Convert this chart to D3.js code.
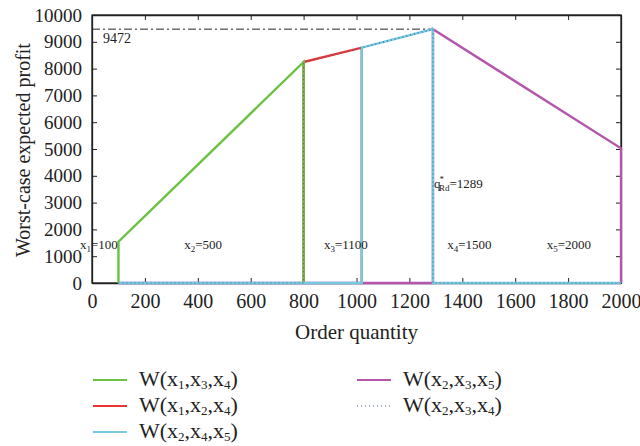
<!DOCTYPE html>
<html>
<head>
<meta charset="utf-8">
<script src="https://cdn.jsdelivr.net/npm/d3@7"></script>
<style>
  body { margin: 0; background: #fff; }
  svg text { font-family: "Liberation Serif", "DejaVu Serif", serif; fill: #222; }
</style>
</head>
<body>
<div id="chart"></div>
<script>
// piecewise profit curves, [order quantity, profit]
var green = [[100, 0], [100, 1540], [800, 8246], [800, 0]];
var red = [[800, 0], [800, 8246], [1020, 8780], [1020, 0]];
var magenta = [[100, 0], [1289, 0], [1289, 9472], [2000, 5026], [2000, 0]];
var cyan = [[100, 0], [1020, 0], [1020, 8780], [1289, 9472], [1289, 0], [2000, 0]];
var dotted = [[100, 0], [800, 0], [800, 8246], [1020, 8780], [1289, 9472], [1289, 0], [2000, 0]];
var bestQ = 1289, bestProfit = 9472;
var xTicks = [0, 200, 400, 600, 800, 1000, 1200, 1400, 1600, 1800, 2000];
var yTicks = [0, 1000, 2000, 3000, 4000, 5000, 6000, 7000, 8000, 9000, 10000];
var regionLabels = [
  {n: "1", v: "100", q: 26},
  {n: "2", v: "500", q: 420},
  {n: "3", v: "1100", q: 960},
  {n: "4", v: "1500", q: 1427},
  {n: "5", v: "2000", q: 1803}
];

var pl = 92, pr = 621, pt = 15, pb = 283;
var svg = d3.select("#chart").append("svg").attr("width", 640).attr("height", 446);
var x = d3.scaleLinear().domain([0, 2000]).range([pl, pr]);
var y = d3.scaleLinear().domain([0, 10000]).range([pb, pt]);
var fmt = d3.format("d");

// axes with inward ticks on all four sides
svg.append("g").attr("transform", "translate(0," + pb + ")")
  .call(d3.axisBottom(x).tickValues(xTicks).tickFormat(fmt).tickSizeInner(-5).tickSizeOuter(0).tickPadding(11))
  .call(function (g) { g.selectAll("text").style("font-size", "20px"); });
svg.append("g").attr("transform", "translate(0," + pt + ")")
  .call(d3.axisTop(x).tickValues(xTicks).tickSizeInner(-5).tickSizeOuter(0).tickFormat(""));
svg.append("g").attr("transform", "translate(" + pl + ",0)")
  .call(d3.axisLeft(y).tickValues(yTicks).tickFormat(fmt).tickSizeInner(-5).tickSizeOuter(0).tickPadding(10))
  .call(function (g) { g.selectAll("text").style("font-size", "19px"); });
svg.append("g").attr("transform", "translate(" + pr + ",0)")
  .call(d3.axisRight(y).tickValues(yTicks).tickSizeInner(-5).tickSizeOuter(0).tickFormat(""));
svg.selectAll(".domain").attr("stroke", "#222").attr("stroke-width", 1.3);
svg.selectAll(".tick line").attr("stroke", "#222");
svg.append("rect").attr("x", pl).attr("y", pt).attr("width", pr - pl).attr("height", pb - pt)
  .attr("fill", "none").attr("stroke", "#222").attr("stroke-width", 1.3);

// optimum reference line
svg.append("line")
  .attr("x1", x(0)).attr("x2", x(bestQ)).attr("y1", y(bestProfit)).attr("y2", y(bestProfit))
  .attr("stroke", "#222").attr("stroke-width", 1).attr("stroke-dasharray", "8,3,2,3");
svg.append("text").attr("x", x(42)).attr("y", y(bestProfit) + 14).style("font-size", "14px").text(bestProfit);

var line = d3.line().x(function (d) { return x(d[0]); }).y(function (d) { return y(d[1]); });
var series = [
  {data: magenta, color: "#b556ad", dash: null},
  {data: red, color: "#ea3530", dash: null},
  {data: green, color: "#6cc142", dash: null},
  {data: cyan, color: "#74cbe0", dash: null},
  {data: dotted, color: "#4d5fa3", dash: "1,3"}
];
series.forEach(function (s) {
  svg.append("path").datum(s.data).attr("d", line)
    .attr("fill", "none").attr("stroke", s.color)
    .attr("stroke-width", s.dash ? 1.2 : 2.4)
    .attr("stroke-dasharray", s.dash);
});

// region labels
regionLabels.forEach(function (r) {
  var t = svg.append("text").attr("x", x(r.q)).attr("y", 249).attr("text-anchor", "middle").style("font-size", "13px");
  t.append("tspan").text("x");
  t.append("tspan").attr("font-size", "9px").attr("dy", 3).text(r.n);
  t.append("tspan").attr("dy", -3).text("=" + r.v);
});
var qt = svg.append("text").attr("x", x(bestQ) + 1).attr("y", 188).style("font-size", "13px");
qt.append("tspan").text("q");
qt.append("tspan").attr("font-size", "9px").attr("dy", -6).attr("dx", -1).text("*");
qt.append("tspan").attr("font-size", "9px").attr("dy", 9).attr("dx", -5).text("Rd");
qt.append("tspan").attr("dy", -3).text("=" + bestQ);

// axis titles
svg.append("text").attr("x", (pl + pr) / 2).attr("y", 339).attr("text-anchor", "middle")
  .style("font-size", "21px").text("Order quantity");
svg.append("text").attr("transform", "translate(30," + ((pt + pb) / 2 + 1) + ") rotate(-90)")
  .attr("text-anchor", "middle").style("font-size", "20px").text("Worst-case expected profit");

// legend
var legend = [
  {subs: ["1", "3", "4"], color: "#6cc142", dash: null, col: 0, row: 0},
  {subs: ["1", "2", "4"], color: "#ea3530", dash: null, col: 0, row: 1},
  {subs: ["2", "4", "5"], color: "#74cbe0", dash: null, col: 0, row: 2},
  {subs: ["2", "3", "5"], color: "#b556ad", dash: null, col: 1, row: 0},
  {subs: ["2", "3", "4"], color: "#4d5fa3", dash: "1,3", col: 1, row: 1}
];
legend.forEach(function (l) {
  var lx = l.col ? 357 : 93, ly = 380 + l.row * 26;
  svg.append("line").attr("x1", lx).attr("x2", lx + 34).attr("y1", ly).attr("y2", ly)
    .attr("stroke", l.color).attr("stroke-width", l.dash ? 1.2 : 2.2).attr("stroke-dasharray", l.dash);
  var t = svg.append("text").attr("x", lx + 46).attr("y", ly + 6).style("font-size", "22px");
  t.append("tspan").text("W(x");
  l.subs.forEach(function (s, i) {
    t.append("tspan").attr("font-size", "13px").attr("dy", 3).text(s);
    t.append("tspan").attr("dy", -3).text(i < 2 ? ",x" : ")");
  });
});
</script>
</body>
</html>
